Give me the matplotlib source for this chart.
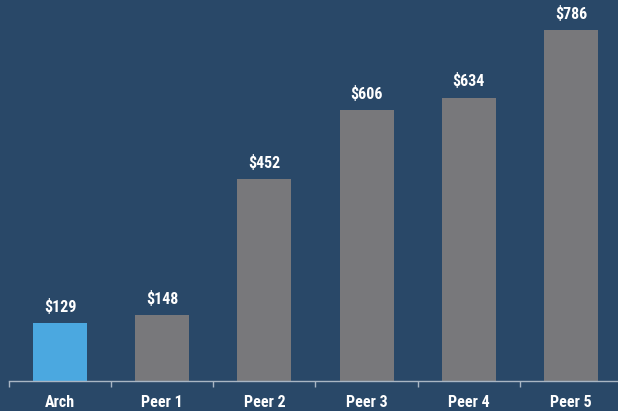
import matplotlib
matplotlib.use("Agg")
import matplotlib.pyplot as plt

categories = ["Arch", "Peer 1", "Peer 2", "Peer 3", "Peer 4", "Peer 5"]
values = [129, 148, 452, 606, 634, 786]
labels = ["$129", "$148", "$452", "$606", "$634", "$786"]

bg = "#294868"
gray = "#78787b"
blue = "#4ba8e0"
axis_col = "#a9b6c4"

fam = ["Roboto Condensed", "Barlow Condensed", "Archivo Narrow", "DejaVu Sans"]
fsize = 11.5

W, H = 618, 411
fig = plt.figure(figsize=(W / 100, H / 100), dpi=100, facecolor=bg)
left = 9 / W
right = 622 / W
ax = fig.add_axes([left, 30 / H, right - left, 381 / H])
ax.set_facecolor(bg)

x = list(range(len(categories)))
colors = [blue] + [gray] * (len(categories) - 1)
ax.bar(x, values, width=0.53, color=colors, zorder=2)
ax.set_xlim(-0.5, 5.5)
ax.set_ylim(0, 853)

for xi, v, lab in zip(x, values, labels):
    ax.annotate(lab, (xi, v), xytext=(0, 6), textcoords="offset points",
                ha="center", va="bottom", color="white", fontsize=fsize,
                fontweight="bold", family=fam, annotation_clip=False)

for s in ["top", "right", "left"]:
    ax.spines[s].set_visible(False)
ax.spines["bottom"].set_color(axis_col)
ax.spines["bottom"].set_linewidth(1.0)
ax.set_yticks([])
ax.set_xticks([i - 0.5 for i in range(len(categories) + 1)])
ax.set_xticklabels([])
ax.tick_params(axis="x", direction="out", length=4, color=axis_col, width=1)
ax.set_xticks(x, minor=True)
ax.set_xticklabels(categories, minor=True)
ax.tick_params(axis="x", which="minor", length=0, pad=10, labelcolor="white",
               labelsize=fsize)
for t in ax.get_xticklabels(minor=True):
    t.set_fontweight("bold")
    t.set_family(fam)

fig.savefig("out.png", dpi=100, facecolor=bg)
